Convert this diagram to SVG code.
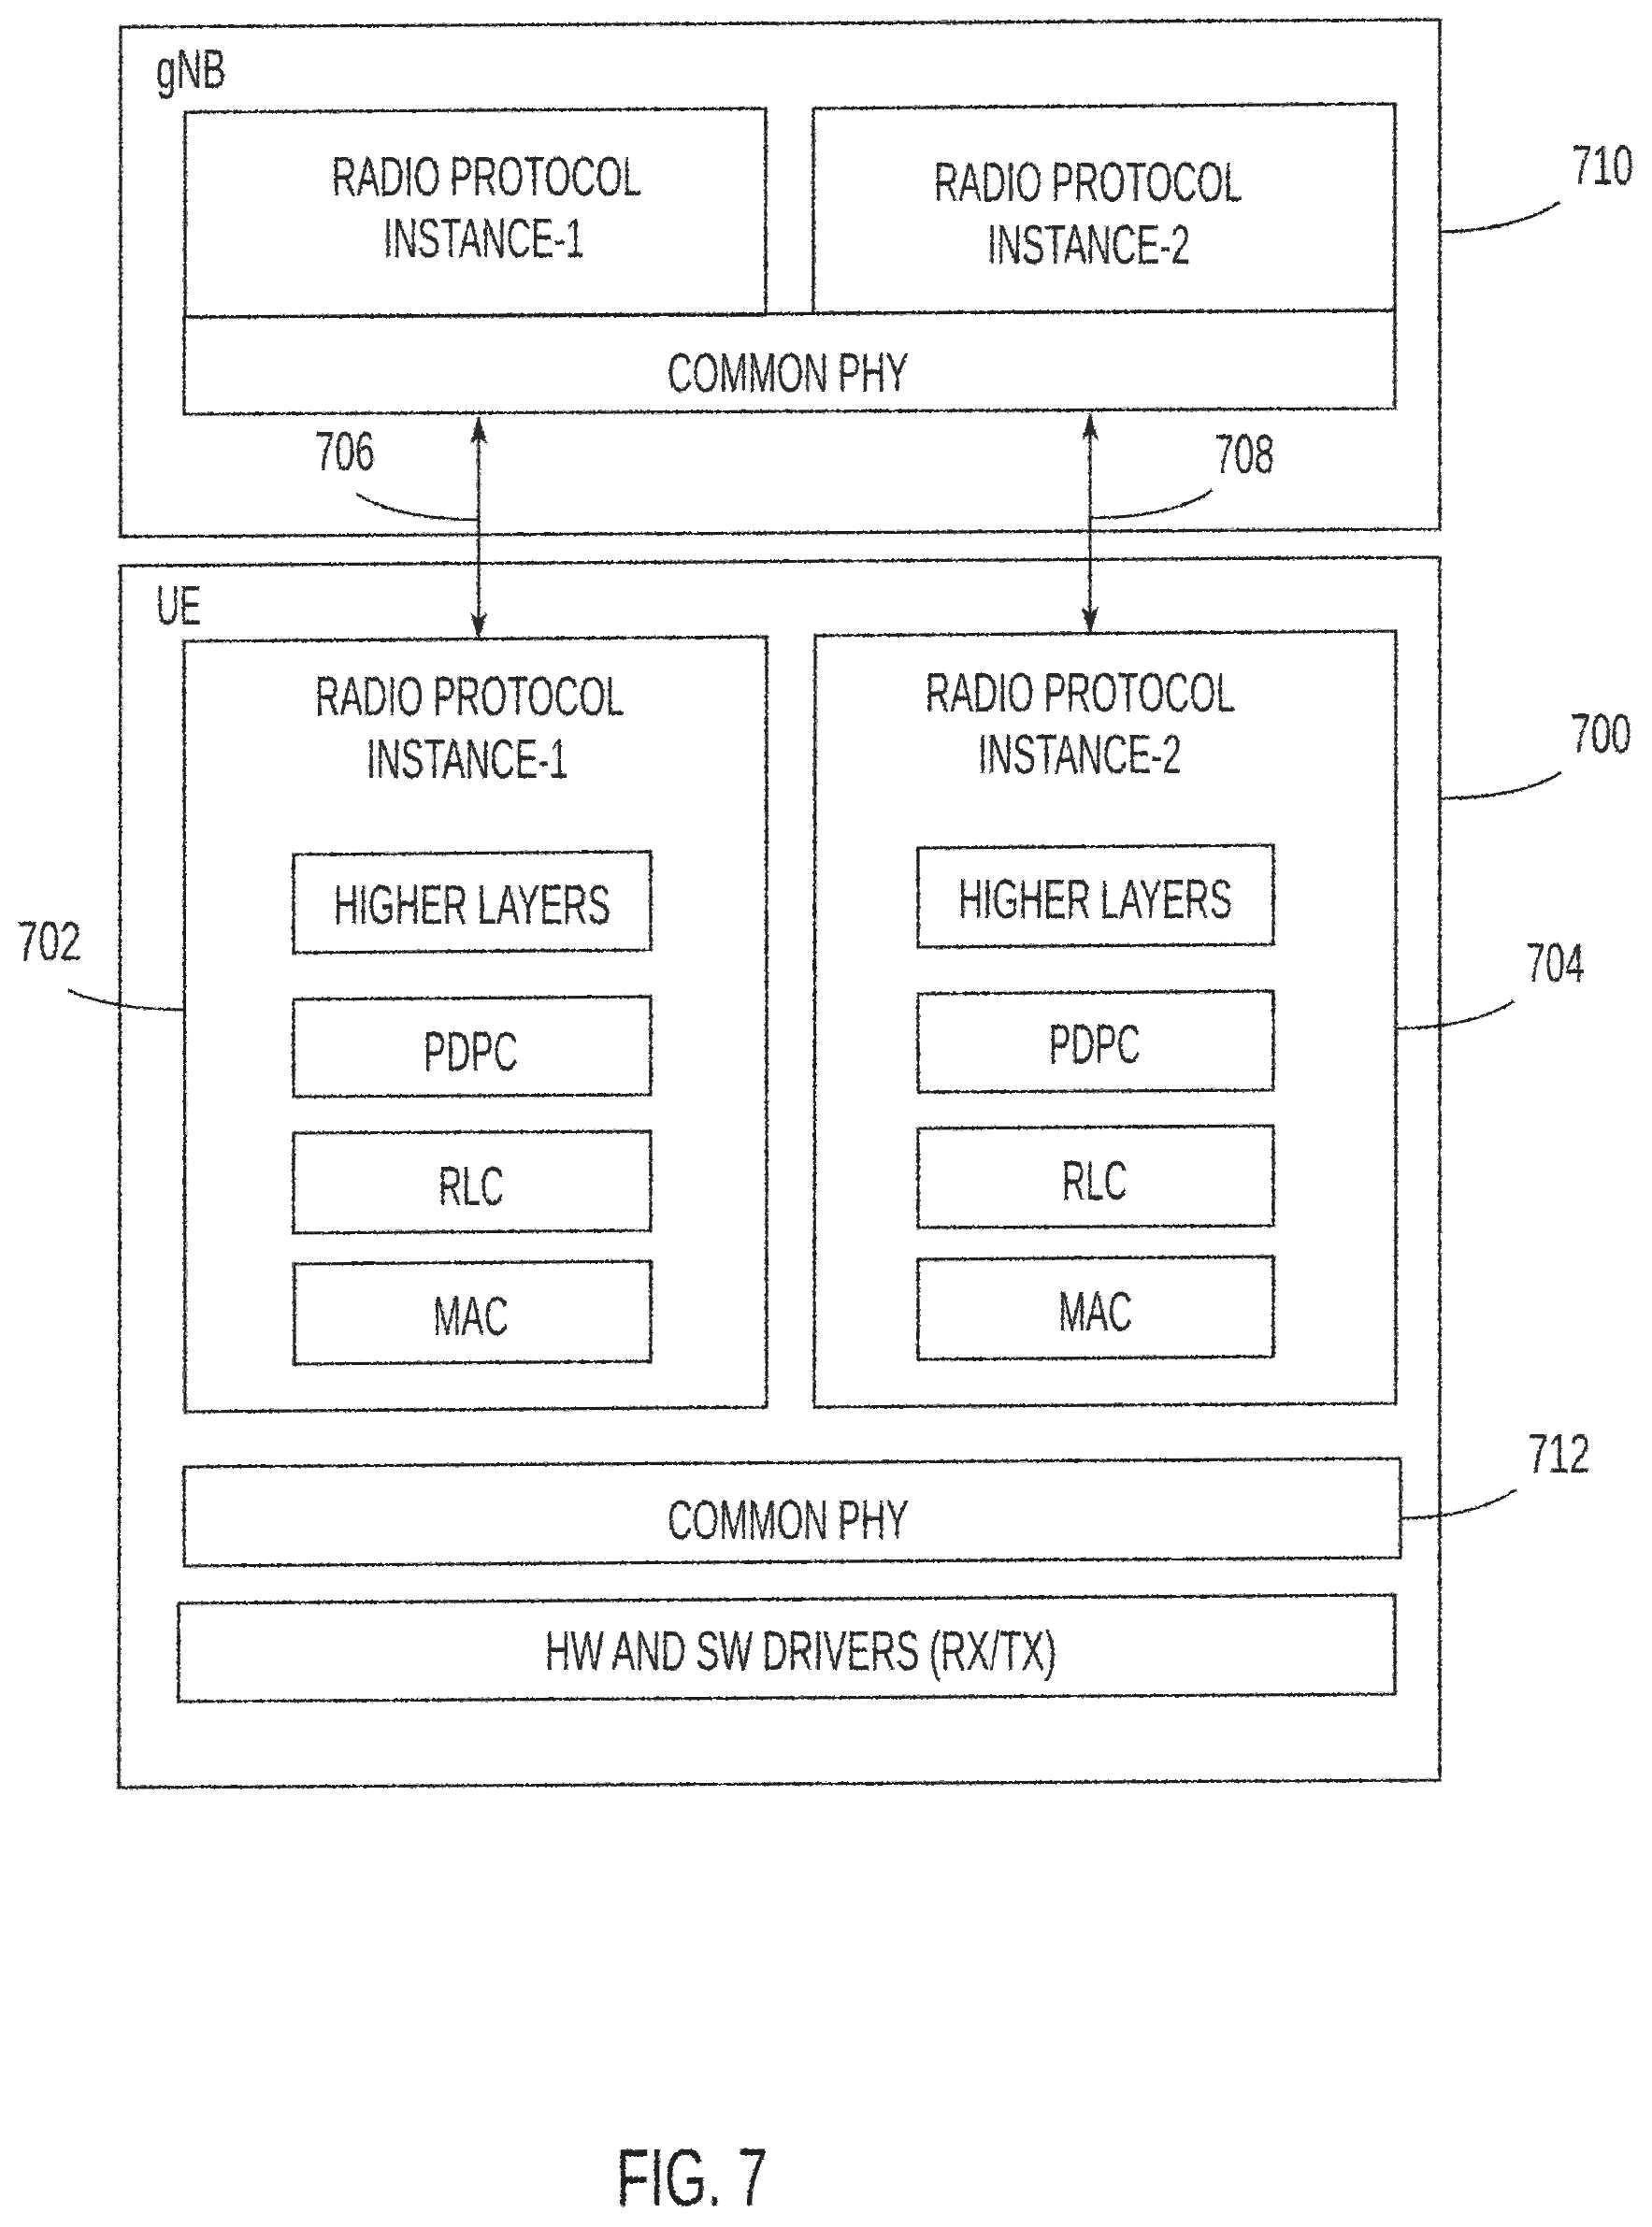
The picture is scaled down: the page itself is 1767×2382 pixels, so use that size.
<svg xmlns="http://www.w3.org/2000/svg" width="1767" height="2382" viewBox="0 0 1767 2382">
<style>
.b{fill:none;stroke:#1a1a1a;stroke-width:3.2;stroke-linejoin:miter}
.t{font-family:"Liberation Sans",Arial,sans-serif;font-size:60px;fill:#2a2a2a}
.f{font-size:88px;fill:#222}
.c{fill:none;stroke:#1a1a1a;stroke-width:3}
.a{marker-start:url(#ah);marker-end:url(#ah)}
</style>
<defs>
<marker id="ah" viewBox="0 0 30 20" refX="29" refY="10" markerWidth="30" markerHeight="20" markerUnits="userSpaceOnUse" orient="auto-start-reverse">
<path d="M0,1 L30,10 L0,19 L7,10 Z" fill="#2a2a2a"/>
</marker>
<filter id="rough" filterUnits="userSpaceOnUse" x="0" y="0" width="1767" height="2382">
<feTurbulence type="fractalNoise" baseFrequency="0.35" numOctaves="1" seed="4" result="n"/>
<feDisplacementMap in="SourceGraphic" in2="n" scale="4" xChannelSelector="R" yChannelSelector="G"/>
</filter>
</defs>
<rect width="1767" height="2382" fill="#fff"/>
<g id="drawing" filter="url(#rough)">
<g id="gnb"><polygon class="b" points="129,29 1540,21 1540,566 129,574"/>
<text class="t" x="167" y="94" textLength="75" lengthAdjust="spacingAndGlyphs">gNB</text></g>
<g id="gnb-instance-1"><polygon class="b" points="198,120 819,116 819,337 198,339"/>
<text class="t" x="355" y="209" textLength="331" lengthAdjust="spacingAndGlyphs">RADIO PROTOCOL</text>
<text class="t" x="410" y="275" textLength="215" lengthAdjust="spacingAndGlyphs">INSTANCE-1</text></g>
<g id="gnb-instance-2"><polygon class="b" points="870,116 1492,111 1492,332 870,335"/>
<text class="t" x="999" y="215" textLength="330" lengthAdjust="spacingAndGlyphs">RADIO PROTOCOL</text>
<text class="t" x="1056" y="282" textLength="217" lengthAdjust="spacingAndGlyphs">INSTANCE-2</text></g>
<g id="gnb-phy"><polygon class="b" points="197,339 1492,332 1492,437 197,443"/>
<text class="t" x="714" y="419" textLength="258" lengthAdjust="spacingAndGlyphs">COMMON PHY</text></g>
<g id="ue"><polygon class="b" points="129,605 1540,596 1540,1904 127,1912"/>
<text class="t" x="167" y="668" textLength="48" lengthAdjust="spacingAndGlyphs">UE</text></g>
<g id="ue-instance-1"><polygon class="b" points="197,686 820,681 820,1505 198,1510"/>
<text class="t" x="337" y="765" textLength="331" lengthAdjust="spacingAndGlyphs">RADIO PROTOCOL</text>
<text class="t" x="392" y="832" textLength="216" lengthAdjust="spacingAndGlyphs">INSTANCE-1</text></g>
<g id="ue-1-higher"><polygon class="b" points="314,914 696,911 696,1016 314,1019"/>
<text class="t" x="357" y="988" textLength="296" lengthAdjust="spacingAndGlyphs">HIGHER LAYERS</text></g>
<g id="ue-1-pdpc"><polygon class="b" points="314,1069 696,1066 696,1171 314,1173"/>
<text class="t" x="453" y="1145" textLength="101" lengthAdjust="spacingAndGlyphs">PDPC</text></g>
<g id="ue-1-rlc"><polygon class="b" points="314,1212 696,1210 696,1316 314,1319"/>
<text class="t" x="469" y="1289" textLength="70" lengthAdjust="spacingAndGlyphs">RLC</text></g>
<g id="ue-1-mac"><polygon class="b" points="315,1352 696,1349 696,1456 315,1459"/>
<text class="t" x="463" y="1428" textLength="81" lengthAdjust="spacingAndGlyphs">MAC</text></g>
<g id="ue-instance-2"><polygon class="b" points="872,680 1493,675 1493,1501 871,1505"/>
<text class="t" x="990" y="761" textLength="331" lengthAdjust="spacingAndGlyphs">RADIO PROTOCOL</text>
<text class="t" x="1046" y="827" textLength="218" lengthAdjust="spacingAndGlyphs">INSTANCE-2</text></g>
<g id="ue-2-higher"><polygon class="b" points="982,907 1362,904 1362,1010 982,1013"/>
<text class="t" x="1025" y="982" textLength="293" lengthAdjust="spacingAndGlyphs">HIGHER LAYERS</text></g>
<g id="ue-2-pdpc"><polygon class="b" points="982,1063 1362,1060 1362,1166 982,1168"/>
<text class="t" x="1122" y="1137" textLength="98" lengthAdjust="spacingAndGlyphs">PDPC</text></g>
<g id="ue-2-rlc"><polygon class="b" points="982,1207 1362,1204 1362,1311 982,1313"/>
<text class="t" x="1136" y="1283" textLength="70" lengthAdjust="spacingAndGlyphs">RLC</text></g>
<g id="ue-2-mac"><polygon class="b" points="982,1347 1362,1344 1362,1451 982,1454"/>
<text class="t" x="1132" y="1423" textLength="79" lengthAdjust="spacingAndGlyphs">MAC</text></g>
<g id="ue-phy"><polygon class="b" points="197,1569 1498,1560 1498,1666 197,1675"/>
<text class="t" x="714" y="1646" textLength="258" lengthAdjust="spacingAndGlyphs">COMMON PHY</text></g>
<g id="ue-drivers"><polygon class="b" points="191,1715 1492,1706 1492,1812 191,1820"/>
<text class="t" x="583" y="1786" textLength="547" lengthAdjust="spacingAndGlyphs">HW AND SW DRIVERS (RX/TX)</text></g>
<g id="connectors">
<line class="c a" x1="512" y1="446" x2="512" y2="684"/>
<line class="c a" x1="1166" y1="442" x2="1166" y2="678"/>
<path class="c" d="M381,528 C410,547 460,556 512,556"/>
<path class="c" d="M1297,524 C1268,546 1215,554 1166,554"/>
<path class="c" d="M1670,826 C1640,846 1590,854 1541,854"/>
<path class="c" d="M1619,1071 C1590,1090 1545,1100 1493,1100"/>
<path class="c" d="M73,1059 C105,1074 150,1080 197,1080"/>
<path class="c" d="M1668,216 C1640,236 1590,248 1540,248"/>
<path class="c" d="M1622,1593 C1595,1612 1550,1624 1498,1624"/>
</g>
<g id="ref-706"><text class="t" x="337" y="503" textLength="64" lengthAdjust="spacingAndGlyphs">706</text></g>
<g id="ref-708"><text class="t" x="1299" y="506" textLength="64" lengthAdjust="spacingAndGlyphs">708</text></g>
<g id="ref-710"><text class="t" transform="translate(1681,197) scale(.66,1)">710</text></g>
<g id="ref-700"><text class="t" transform="translate(1680,805) scale(.65,1)">700</text></g>
<g id="ref-704"><text class="t" x="1632" y="1050" textLength="63" lengthAdjust="spacingAndGlyphs">704</text></g>
<g id="ref-702"><text class="t" x="18" y="1027" textLength="69" lengthAdjust="spacingAndGlyphs">702</text></g>
<g id="ref-712"><text class="t" x="1634" y="1575" textLength="67" lengthAdjust="spacingAndGlyphs">712</text></g>
<g id="fig"><text class="t f" x="659" y="2359" textLength="162" lengthAdjust="spacingAndGlyphs">FIG. 7</text></g>
</g>
</svg>
